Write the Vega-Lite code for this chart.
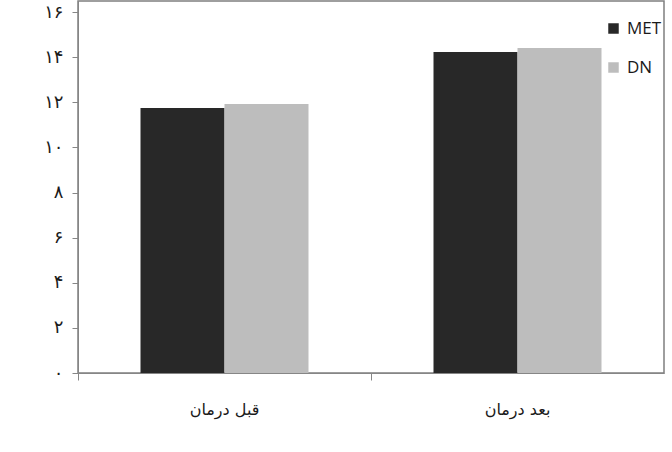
{
  "$schema": "https://vega.github.io/schema/vega-lite/v6.json",
  "width": 586,
  "height": 372,
  "autosize": {"type": "none"},
  "padding": {"left": 78, "top": 1, "right": 8, "bottom": 79},
  "background": "white",
  "config": {
    "view": {"stroke": "#7f7f7f", "strokeWidth": 1.5},
    "axis": {"domainColor": "#868686", "tickColor": "#868686", "grid": false, "labelColor": "#1a1a1a"}
  },
  "data": {
    "values": [
      {"period": "قبل درمان", "group": "MET", "value": 11.75},
      {"period": "قبل درمان", "group": "DN", "value": 11.92},
      {"period": "بعد درمان", "group": "MET", "value": 14.23},
      {"period": "بعد درمان", "group": "DN", "value": 14.41}
    ]
  },
  "mark": {"type": "bar"},
  "encoding": {
    "x": {
      "field": "period",
      "type": "nominal",
      "sort": ["قبل درمان", "بعد درمان"],
      "scale": {"paddingInner": 0, "paddingOuter": 0},
      "axis": {
        "title": null,
        "labelAngle": 0,
        "bandPosition": 0,
        "tickSize": 7,
        "labelPadding": 21,
        "labelFont": "DejaVu Sans",
        "labelFontSize": 16
      }
    },
    "xOffset": {
      "field": "group",
      "type": "nominal",
      "sort": ["MET", "DN"],
      "scale": {"paddingInner": 0, "paddingOuter": 0.744}
    },
    "y": {
      "field": "value",
      "type": "quantitative",
      "scale": {"domain": [0, 16.49], "nice": false},
      "axis": {
        "title": null,
        "values": [0, 2, 4, 6, 8, 10, 12, 14, 16],
        "tickSize": 6,
        "labelPadding": 9,
        "labelFont": "DejaVu Sans",
        "labelFontSize": 18,
        "labelExpr": "replace(replace(replace(replace(replace(replace(datum.label, /0/g, '۰'), /1/g, '۱'), /2/g, '۲'), /4/g, '۴'), /6/g, '۶'), /8/g, '۸')"
      }
    },
    "color": {
      "field": "group",
      "type": "nominal",
      "sort": ["MET", "DN"],
      "scale": {"domain": ["MET", "DN"], "range": ["#282828", "#bdbdbd"]},
      "legend": {
        "title": null,
        "orient": "none",
        "legendX": 527,
        "legendY": 19,
        "symbolType": "square",
        "symbolSize": 110,
        "symbolStrokeWidth": 0,
        "labelFont": "Open Sans",
        "labelFontSize": 17,
        "labelColor": "#1a1a1a",
        "labelOffset": 5,
        "rowPadding": 21
      }
    }
  }
}
